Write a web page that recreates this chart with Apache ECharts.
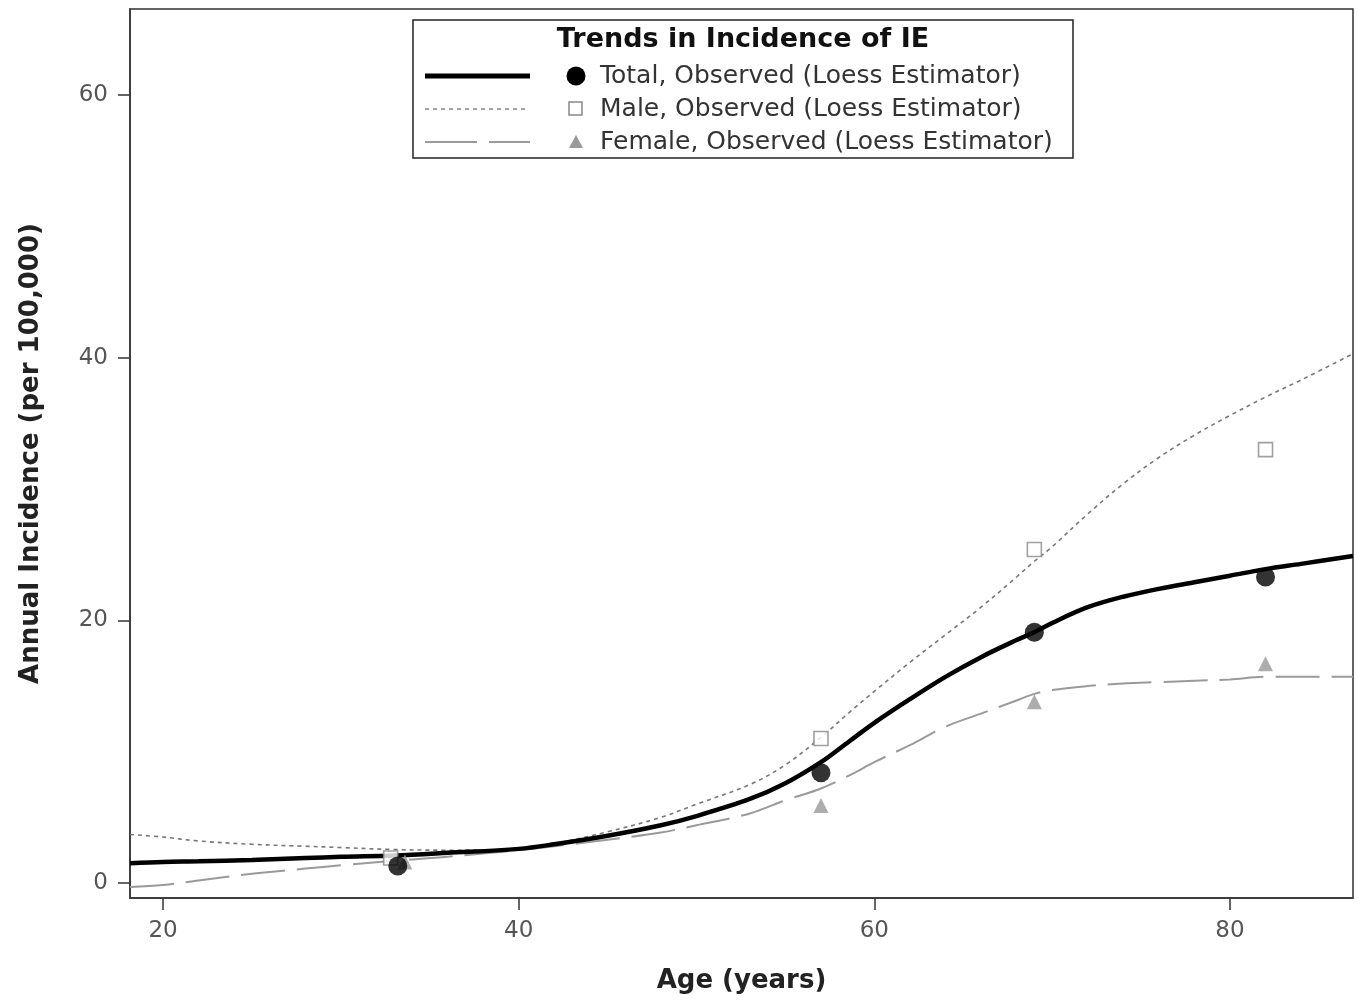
<!DOCTYPE html>
<html>
<head>
<meta charset="utf-8">
<script src="https://cdn.jsdelivr.net/npm/echarts@6/dist/echarts.min.js"></script>
<style>html,body{margin:0;padding:0;background:#fff;}#chart{width:1358px;height:1003px;}</style>
</head>
<body>
<div id="chart"></div>
<script>
// ---- data ----
const ages = [18.14, 20, 22, 25, 28, 30, 33, 36, 40, 42, 45, 48, 50, 53, 55, 57, 58.6, 60, 62, 64, 66, 68, 69, 70, 72, 74, 76, 78, 80, 82, 84, 86.92];
const totalLoess = [1.5, 1.6, 1.65, 1.75, 1.9, 2.0, 2.1, 2.3, 2.6, 2.95, 3.6, 4.4, 5.1, 6.4, 7.6, 9.2, 10.8, 12.2, 14.0, 15.7, 17.2, 18.5, 19.1, 19.8, 21.0, 21.8, 22.4, 22.9, 23.4, 23.9, 24.3, 24.9];
const maleLoess = [3.7, 3.5, 3.2, 2.95, 2.8, 2.7, 2.55, 2.5, 2.6, 3.0, 3.9, 5.0, 6.0, 7.5, 9.0, 11.1, 13.0, 14.6, 16.8, 18.9, 21.0, 23.3, 24.5, 25.6, 28.1, 30.4, 32.4, 34.1, 35.6, 37.0, 38.3, 40.3];
const femaleLoess = [-0.3, -0.15, 0.2, 0.7, 1.1, 1.35, 1.7, 2.0, 2.5, 2.8, 3.3, 3.85, 4.4, 5.3, 6.3, 7.2, 8.2, 9.2, 10.5, 11.9, 12.9, 13.9, 14.4, 14.7, 15.0, 15.2, 15.3, 15.4, 15.5, 15.7, 15.7, 15.7];

const totalObsAge = [33.2, 57, 69, 82];
const totalObs = [1.3, 8.4, 19.1, 23.3];
const maleObsAge = [32.8, 57, 69, 82];
const maleObs = [1.9, 11.0, 25.4, 33.0];
const femaleObsAge = [33.6, 57, 69, 82];
const femaleObs = [1.6, 5.9, 13.8, 16.7];

const xTicks = [20, 40, 60, 80];
const yTicks = [0, 20, 40, 60];

const legendTitle = 'Trends in Incidence of IE';
const legendLabels = ['Total, Observed (Loess Estimator)', 'Male, Observed (Loess Estimator)', 'Female, Observed (Loess Estimator)'];
const xTitle = 'Age (years)';
const yTitle = 'Annual Incidence (per 100,000)';

// ---- build ----
const zip = (xs, ys) => xs.map((x, i) => [x, ys[i]]);
const FONT = '"DejaVu Sans", Verdana, sans-serif';

const chart = echarts.init(document.getElementById('chart'), null, {renderer: 'canvas'});

const lgX = 413, lgY = 20, lgW = 660, lgH = 138;
const rowY = [76, 109, 142];

const option = {
  backgroundColor: '#fff',
  animation: false,
  grid: {left: 130, right: 5, top: 9, bottom: 105, show: true, borderColor: '#333', borderWidth: 1.5, backgroundColor: 'transparent'},
  xAxis: {
    type: 'value', min: 18.14, max: 86.92,
    name: xTitle, nameLocation: 'middle', nameGap: 70,
    nameTextStyle: {fontFamily: FONT, fontSize: 26, fontWeight: 'bold', color: '#222'},
    axisLine: {show: true, onZero: false, lineStyle: {color: '#333', width: 1.5}},
    axisTick: {show: true, length: 12, customValues: xTicks, lineStyle: {color: '#333', width: 1.5}},
    axisLabel: {customValues: xTicks, margin: 22, fontFamily: FONT, fontSize: 23, color: '#555'},
    splitLine: {show: false}
  },
  yAxis: {
    type: 'value', min: -1.14, max: 66.55,
    name: yTitle, nameLocation: 'middle', nameGap: 86,
    nameTextStyle: {fontFamily: FONT, fontSize: 26, fontWeight: 'bold', color: '#222'},
    axisLine: {show: true, onZero: false, lineStyle: {color: '#333', width: 1.5}},
    axisTick: {show: true, length: 12, customValues: yTicks, lineStyle: {color: '#333', width: 1.5}},
    axisLabel: {customValues: yTicks, margin: 22, fontFamily: FONT, fontSize: 23, color: '#555'},
    splitLine: {show: false}
  },
  series: [
    {type: 'line', name: 'Male Loess', data: zip(ages, maleLoess), showSymbol: false, smooth: 0.35,
     lineStyle: {color: '#777', width: 1.6, type: [4, 4]}, z: 2},
    {type: 'line', name: 'Female Loess', data: zip(ages, femaleLoess), showSymbol: false, smooth: 0.35,
     lineStyle: {color: '#9a9a9a', width: 2, type: [44, 12]}, z: 2},
    {type: 'line', name: 'Total Loess', data: zip(ages, totalLoess), showSymbol: false, smooth: 0.35,
     lineStyle: {color: '#000', width: 4.5}, z: 3},
    {type: 'scatter', name: 'Male Observed', data: zip(maleObsAge, maleObs), symbol: 'rect', symbolSize: 14,
     itemStyle: {color: '#fff', borderColor: '#888', borderWidth: 1.6}, z: 4},
    {type: 'scatter', name: 'Female Observed', data: zip(femaleObsAge, femaleObs), symbol: 'triangle', symbolSize: 15,
     itemStyle: {color: '#999'}, z: 4},
    {type: 'scatter', name: 'Total Observed', data: zip(totalObsAge, totalObs), symbol: 'circle', symbolSize: 19,
     itemStyle: {color: '#000'}, z: 5}
  ],
  graphic: [
    {type: 'rect', shape: {x: lgX, y: lgY, width: lgW, height: lgH}, style: {fill: '#fff', stroke: '#222', lineWidth: 1.5}, z: 10},
    {type: 'text', x: lgX + lgW / 2, y: 40, z: 11,
     style: {text: legendTitle, font: 'bold 27px ' + FONT, fill: '#111', align: 'center', verticalAlign: 'middle'}},
    {type: 'line', shape: {x1: 425, y1: rowY[0], x2: 530, y2: rowY[0]}, style: {stroke: '#000', lineWidth: 5}, z: 11},
    {type: 'line', shape: {x1: 425, y1: rowY[1], x2: 526, y2: rowY[1]}, style: {stroke: '#888', lineWidth: 1.5, lineDash: [4, 4]}, z: 11},
    {type: 'line', shape: {x1: 425, y1: rowY[2], x2: 530, y2: rowY[2]}, style: {stroke: '#9a9a9a', lineWidth: 2, lineDash: [52, 12]}, z: 11},
    {type: 'circle', shape: {cx: 576, cy: rowY[0], r: 9.5}, style: {fill: '#000'}, z: 11},
    {type: 'rect', shape: {x: 569, y: rowY[1] - 7, width: 13, height: 13}, style: {fill: '#fff', stroke: '#888', lineWidth: 1.5}, z: 11},
    {type: 'polygon', shape: {points: [[576, rowY[2] - 7], [583, rowY[2] + 6], [569, rowY[2] + 6]]}, style: {fill: '#999'}, z: 11},
    ...legendLabels.map((t, i) => ({type: 'text', x: 600, y: rowY[i], z: 11,
      style: {text: t, font: '25px ' + FONT, fill: '#333', align: 'left', verticalAlign: 'middle'}}))
  ]
};
chart.setOption(option);
</script>
</body>
</html>
